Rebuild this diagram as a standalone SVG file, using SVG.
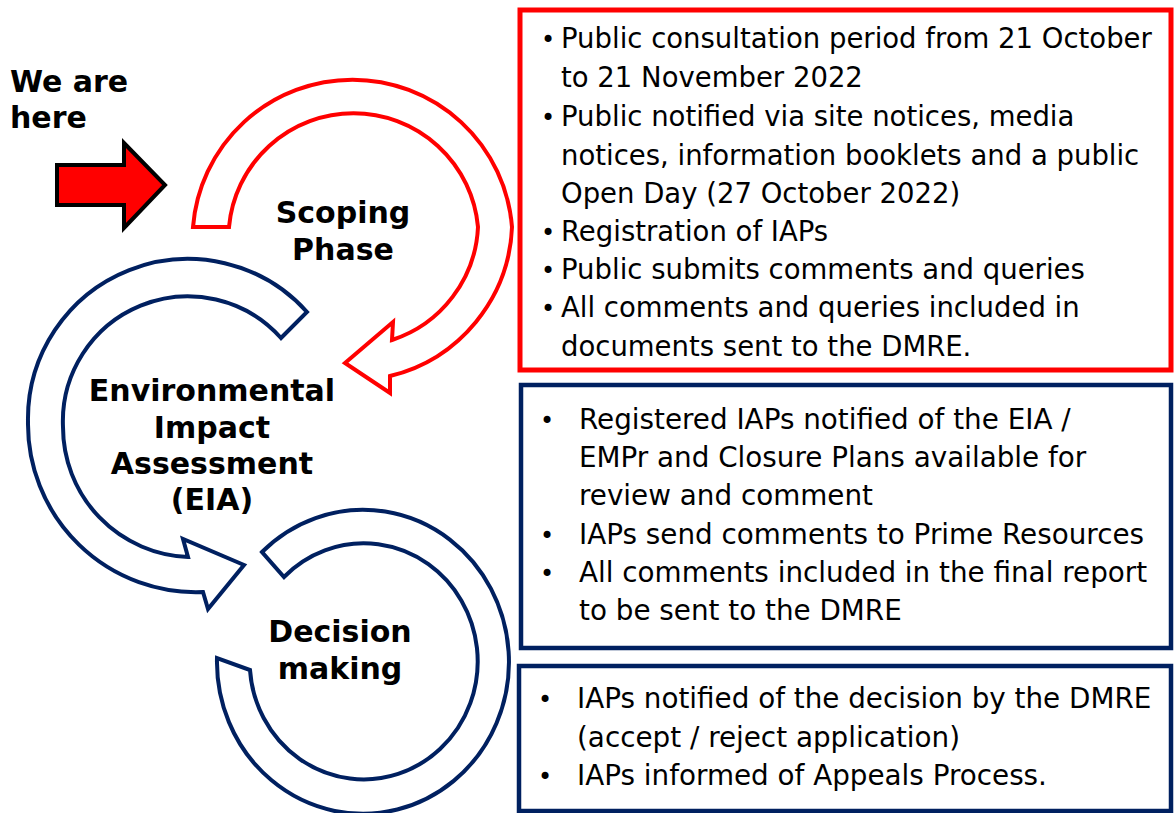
<svg xmlns="http://www.w3.org/2000/svg" width="1174" height="813" viewBox="0 0 1174 813">
<style>
.bg{fill:#ffffff}
.ring-red{fill:#ffffff;stroke:#ff0000;stroke-width:4;stroke-linejoin:miter}
.ring-blue{fill:#ffffff;stroke:#002060;stroke-width:4;stroke-linejoin:miter}
.box-red{fill:#ffffff;stroke:#ff0000;stroke-width:5}
.box-blue{fill:#ffffff;stroke:#002060;stroke-width:4.5}
.lbl{font-family:"DejaVu Sans",Verdana,sans-serif;font-weight:bold;font-size:30px;fill:#000000;text-anchor:middle}
.here{font-family:"DejaVu Sans",Verdana,sans-serif;font-weight:bold;font-size:30px;fill:#000000}
.body{font-family:"DejaVu Sans",Verdana,sans-serif;font-size:27.5px;fill:#000000}
.body2{font-family:"DejaVu Sans",Verdana,sans-serif;font-size:27.8px;fill:#000000}
.bul{font-family:"DejaVu Sans",Verdana,sans-serif;font-size:24px;fill:#000000;text-anchor:middle}
</style>
<rect class="bg" x="0" y="0" width="1174" height="813"/>

<g id="connectors">
  <path id="we-are-here-arrow" d="M57,165 L124,165 L124,143 L165,185 L124,228 L124,205 L57,205 Z" fill="#ff0000" stroke="#000000" stroke-width="4" stroke-linejoin="miter"/>
</g>

<g id="we-are-here">
  <text class="here" x="10" y="92">We are</text>
  <text class="here" x="10" y="128">here</text>
</g>

<g id="node-scoping">
  <path class="ring-red" d="M193,227 A160,160 0 0 1 512,227 A160,160 0 0 1 390,376 L390,393 L345,363 L393,322 L392,340 A125,125 0 0 0 478,227 A125,125 0 0 0 229,227 Z"/>
  <text class="lbl" x="343" y="223">Scoping</text>
  <text class="lbl" x="343" y="260">Phase</text>
</g>

<g id="node-eia">
  <path class="ring-blue" d="M307,312 A160,160 0 0 0 28,422 A168,168 0 0 0 203,592 L208,609 L244,565 L183,539 L188,557 A130,130 0 0 1 63,427 A125,125 0 0 1 281,338 Z"/>
  <text class="lbl" x="212" y="401">Environmental</text>
  <text class="lbl" x="212" y="438">Impact</text>
  <text class="lbl" x="212" y="474">Assessment</text>
  <text class="lbl" x="212" y="510">(EIA)</text>
</g>

<g id="node-decision">
  <path class="ring-blue" d="M262,552 A146,152 0 1 1 217,658 L250,670 A114,118 0 1 0 284,577 Z"/>
  <text class="lbl" x="340" y="642">Decision</text>
  <text class="lbl" x="340" y="679">making</text>
</g>

<g id="box-scoping">
  <rect class="box-red" x="520" y="10" width="651" height="360"/>
  <text class="bul" x="548" y="48">•</text>
  <text class="body" x="561" y="48">Public consultation period from 21 October</text>
  <text class="body" x="561" y="87">to 21 November 2022</text>
  <text class="bul" x="548" y="126">•</text>
  <text class="body" x="561" y="126">Public notified via site notices, media</text>
  <text class="body" x="561" y="165">notices, information booklets and a public</text>
  <text class="body" x="561" y="203">Open Day (27 October 2022)</text>
  <text class="bul" x="548" y="241">•</text>
  <text class="body" x="561" y="241">Registration of IAPs</text>
  <text class="bul" x="548" y="279">•</text>
  <text class="body" x="561" y="279">Public submits comments and queries</text>
  <text class="bul" x="548" y="317">•</text>
  <text class="body" x="561" y="317">All comments and queries included in</text>
  <text class="body" x="561" y="356">documents sent to the DMRE.</text>
</g>

<g id="box-eia">
  <rect class="box-blue" x="521" y="385" width="650" height="263"/>
  <text class="bul" x="547" y="429">•</text>
  <text class="body2" x="579" y="429">Registered IAPs notified of the EIA /</text>
  <text class="body2" x="579" y="467">EMPr and Closure Plans available for</text>
  <text class="body2" x="579" y="505">review and comment</text>
  <text class="bul" x="547" y="544">•</text>
  <text class="body2" x="579" y="544">IAPs send comments to Prime Resources</text>
  <text class="bul" x="547" y="582">•</text>
  <text class="body2" x="579" y="582">All comments included in the final report</text>
  <text class="body2" x="579" y="620">to be sent to the DMRE</text>
</g>

<g id="box-decision">
  <rect class="box-blue" x="519" y="666" width="652" height="145"/>
  <text class="bul" x="545" y="708">•</text>
  <text class="body2" x="577" y="708">IAPs notified of the decision by the DMRE</text>
  <text class="body2" x="577" y="747">(accept / reject application)</text>
  <text class="bul" x="545" y="785">•</text>
  <text class="body2" x="577" y="785">IAPs informed of Appeals Process.</text>
</g>
</svg>
